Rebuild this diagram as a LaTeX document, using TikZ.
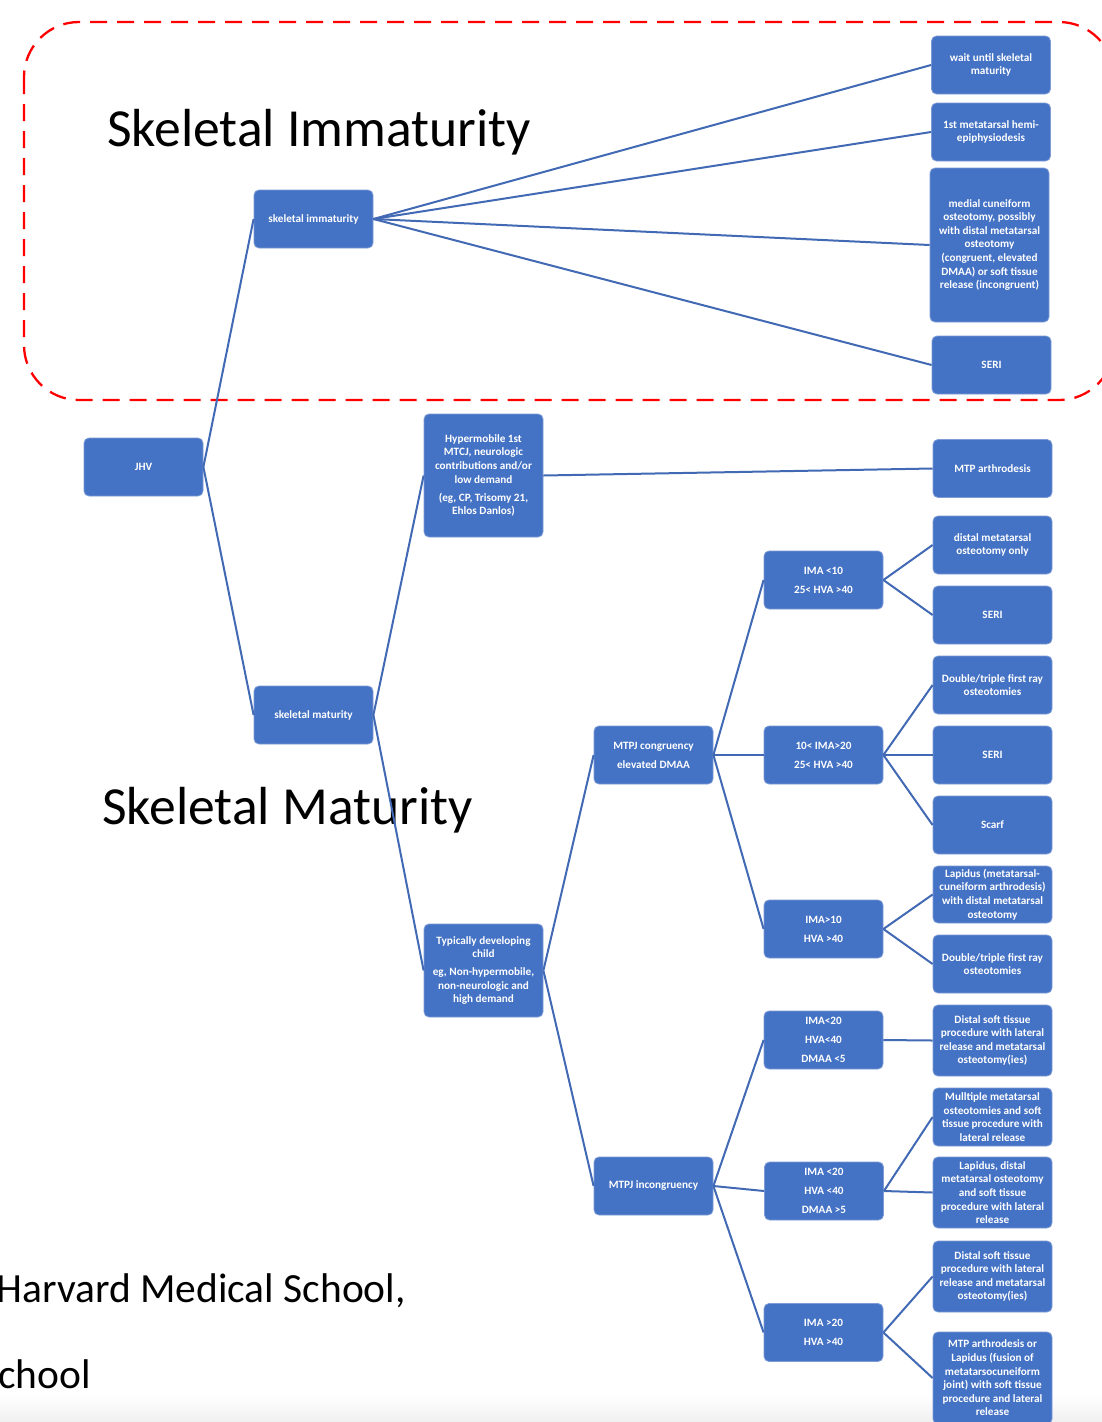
\documentclass[tikz,border=0pt]{standalone}
\usepackage{fontspec}
\setmainfont{Carlito}
\definecolor{boxblue}{HTML}{4472C4}
\definecolor{boxedge}{HTML}{7E9BD6}
\definecolor{linkblue}{HTML}{4169B4}
\begin{document}
\begin{tikzpicture}[x=1pt,y=-1pt,
  box/.style={draw=boxedge, line width=0.8pt, fill=boxblue, rounded corners=5pt, text=white,
    font=\fontsize{11.2}{13.6}\selectfont\bfseries, align=center, minimum width=119pt,
    minimum height=58pt, inner sep=1pt},
  conn/.style={draw=linkblue, line width=2pt},
  bigtxt/.style={font=\fontsize{53.6}{60}\selectfont, inner sep=0pt},
  foot/.style={font=\fontsize{41.5}{46}\selectfont, inner sep=0pt}]
\useasboundingbox (0,0) rectangle (1102,1422);
\fill[white] (0,0) rectangle (1102,1422);
\shade[top color=white, bottom color=black!6] (0,1395) rectangle (1102,1422);

% red dashed frame
\draw[red, line width=2.3pt, dash pattern=on 17pt off 10pt, rounded corners=55pt] (24,22) rectangle (1114,400);

% titles
\node[bigtxt, anchor=base west] (tImm) at (107,146) {Skeletal Immaturity};
\node[bigtxt, anchor=base west] (tMat) at (102,824) {Skeletal Maturity};
\node[foot, anchor=base east] (tHarv) at (406,1302) {Harvard Medical School,};
\node[foot, anchor=base west] (tSch) at (-2,1388) {chool};

% level 0-2
\node[box] (jhv) at (143.5,467) {JHV};
\node[box] (simm) at (313.5,219) {skeletal immaturity};
\node[box] (smat) at (313.5,715) {skeletal maturity};
\node[box, minimum height=123pt] (hyp) at (483.5,475.5) {Hypermobile 1st\\MTCJ, neurologic\\contributions and/or\\low demand\\[4.5pt](eg, CP, Trisomy 21,\\Ehlos Danlos)};
\node[box, minimum height=93pt] (typ) at (483.5,970.5) {Typically developing\\child\\[4.5pt]eg, Non-hypermobile,\\non-neurologic and\\high demand};
\node[box] (cong) at (653.5,755) {MTPJ congruency\\[5.4pt]elevated DMAA};
\node[box] (incong) at (653.5,1186) {MTPJ incongruency};

% level 3
\node[box] (a1) at (823.5,580) {IMA <10\\[5.4pt]25< HVA >40};
\node[box] (a2) at (823.5,755) {10< IMA>20\\[5.4pt]25< HVA >40};
\node[box] (a3) at (823.5,929) {IMA>10\\[5.4pt]HVA >40};
\node[box] (b1) at (823.5,1040) {IMA<20\\[5.4pt]HVA<40\\[5.4pt]DMAA <5};
\node[box] (b2) at (824,1191) {IMA <20\\[5.4pt]HVA <40\\[5.4pt]DMAA >5};
\node[box] (b3) at (823.5,1332.5) {IMA >20\\[5.4pt]HVA >40};

% right column (immaturity)
\node[box] (r1) at (991,65) {wait until skeletal\\maturity};
\node[box] (r2) at (991,132) {1st metatarsal hemi-\\epiphysiodesis};
\node[box, minimum height=154pt] (r3) at (989.5,245) {medial cuneiform\\osteotomy, possibly\\with distal metatarsal\\osteotomy\\(congruent, elevated\\DMAA) or soft tissue\\release (incongruent)};
\node[box] (r4) at (991.5,365) {SERI};

% right column (maturity)
\node[box] (m1) at (992.5,468.5) {MTP arthrodesis};
\node[box] (m2) at (992.5,545) {distal metatarsal\\osteotomy only};
\node[box] (m3) at (992.5,615) {SERI};
\node[box] (m4) at (992.5,685) {Double/triple first ray\\osteotomies};
\node[box] (m5) at (992.5,755) {SERI};
\node[box] (m6) at (992.5,825) {Scarf};
\node[box, minimum height=57pt] (m7) at (992.5,894.5) {Lapidus (metatarsal-\\cuneiform arthrodesis)\\with distal metatarsal\\osteotomy};
\node[box] (m8) at (992.5,964) {Double/triple first ray\\osteotomies};
\node[box, minimum height=71pt] (m9) at (992.5,1040.5) {Distal soft tissue\\procedure with lateral\\release and metatarsal\\osteotomy(ies)};
\node[box] (m10) at (992.5,1117) {Mulltiple metatarsal\\osteotomies and soft\\tissue procedure with\\lateral release};
\node[box, minimum height=71pt] (m11) at (992.5,1192.5) {Lapidus, distal\\metatarsal osteotomy\\and soft tissue\\procedure with lateral\\release};
\node[box, minimum height=71pt] (m12) at (992.5,1276.5) {Distal soft tissue\\procedure with lateral\\release and metatarsal\\osteotomy(ies)};
\node[box, minimum height=92pt] (m13) at (992.5,1378) {MTP arthrodesis or\\Lapidus (fusion of\\metatarsocuneiform\\joint) with soft tissue\\procedure and lateral\\release};

% connectors
\draw[conn] (jhv.east) -- (simm.west);
\draw[conn] (jhv.east) -- (smat.west);
\draw[conn] (simm.east) -- (r1.west);
\draw[conn] (simm.east) -- (r2.west);
\draw[conn] (simm.east) -- (r3.west);
\draw[conn] (simm.east) -- (r4.west);
\draw[conn] (smat.east) -- (hyp.west);
\draw[conn] (smat.east) -- (typ.west);
\draw[conn] (hyp.east) -- (m1.west);
\draw[conn] (typ.east) -- (cong.west);
\draw[conn] (typ.east) -- (incong.west);
\draw[conn] (cong.east) -- (a1.west);
\draw[conn] (cong.east) -- (a2.west);
\draw[conn] (cong.east) -- (a3.west);
\draw[conn] (incong.east) -- (b1.west);
\draw[conn] (incong.east) -- (b2.west);
\draw[conn] (incong.east) -- (b3.west);
\draw[conn] (a1.east) -- (m2.west);
\draw[conn] (a1.east) -- (m3.west);
\draw[conn] (a2.east) -- (m4.west);
\draw[conn] (a2.east) -- (m5.west);
\draw[conn] (a2.east) -- (m6.west);
\draw[conn] (a3.east) -- (m7.west);
\draw[conn] (a3.east) -- (m8.west);
\draw[conn] (b1.east) -- (m9.west);
\draw[conn] (b2.east) -- (m10.west);
\draw[conn] (b2.east) -- (m11.west);
\draw[conn] (b3.east) -- (m12.west);
\draw[conn] (b3.east) -- (m13.west);
\end{tikzpicture}
\end{document}
